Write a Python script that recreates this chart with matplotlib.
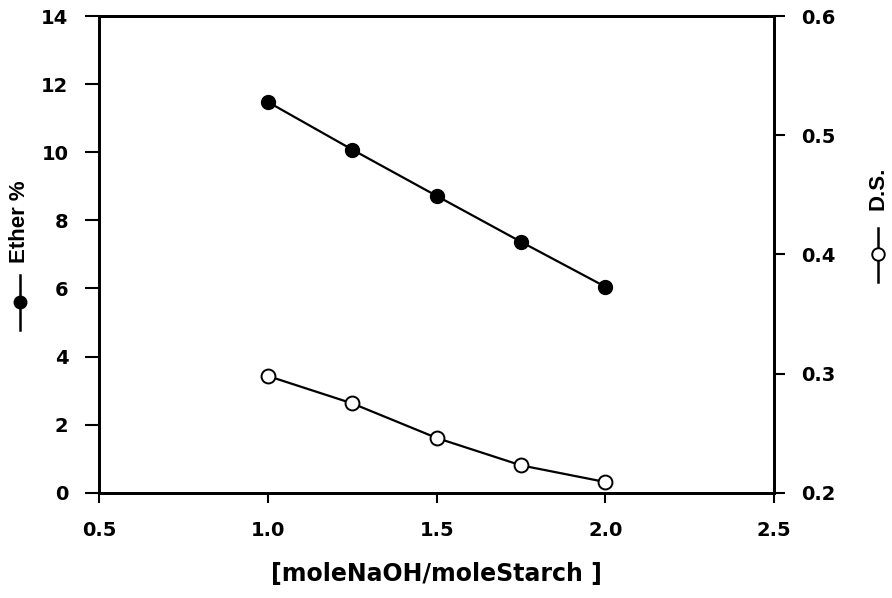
import matplotlib
matplotlib.use("Agg")
from matplotlib import pyplot as plt
from matplotlib.lines import Line2D

plt.rcParams['font.family'] = ['DejaVu Sans']
plt.rcParams['font.weight'] = 'bold'

# data
ratio = [1.0, 1.25, 1.5, 1.75, 2.0]
ether = [11.48, 10.08, 8.72, 7.37, 6.05]
ds = [0.298, 0.275, 0.246, 0.223, 0.209]

x_ticks = [0.5, 1.0, 1.5, 2.0, 2.5]
left_ticks = [0, 2, 4, 6, 8, 10, 12, 14]
right_ticks = [0.2, 0.3, 0.4, 0.5, 0.6]

fig = plt.figure(figsize=(8.92, 5.98), dpi=100)
ax = fig.add_axes([0.111, 0.176, 0.757, 0.797])
ax2 = ax.twinx()

ax.plot(ratio, ether, color='black', lw=1.6, marker='o', ms=10,
        mfc='black', mec='black', zorder=3)
ax2.plot(ratio, ds, color='black', lw=1.6, marker='o', ms=10,
         mfc='white', mec='black', mew=1.4, zorder=3)

ax.set_xlim(0.5, 2.5)
ax.set_ylim(0, 14)
ax2.set_ylim(0.2, 0.6)
ax.set_xticks(x_ticks)
ax.set_xticklabels([f"{v:.1f}" for v in x_ticks])
ax.set_yticks(left_ticks)
ax2.set_yticks(right_ticks)
ax2.set_yticklabels([f"{v:.1f}" for v in right_ticks])

for a in (ax, ax2):
    for s in a.spines.values():
        s.set_linewidth(2)
ax.tick_params(axis='y', direction='out', length=10, width=1.5, labelsize=14, pad=12)
ax.tick_params(axis='x', direction='out', length=7, width=1.5, labelsize=14, pad=13)
ax2.tick_params(axis='y', direction='out', length=8, width=1.5, labelsize=14, pad=11)

ax.set_xlabel("[moleNaOH/moleStarch ]", fontsize=17, fontweight='bold', labelpad=16)

# y labels with the series symbol drawn in front
fig.text(0.022, 0.63, "Ether %", rotation=90, fontsize=16, ha='center', va='center',
         family='Liberation Sans', fontweight='bold')
fig.lines.append(Line2D([0.022, 0.022], [0.448, 0.54], transform=fig.transFigure,
                        color='black', lw=1.8))
fig.lines.append(Line2D([0.022], [0.495], transform=fig.transFigure, color='black',
                        marker='o', ms=9, mfc='black'))

fig.text(0.984, 0.685, "D.S.", rotation=90, fontsize=16, ha='center', va='center',
         family='Liberation Sans', fontweight='bold')
fig.lines.append(Line2D([0.984, 0.984], [0.528, 0.618], transform=fig.transFigure,
                        color='black', lw=1.8))
fig.lines.append(Line2D([0.984], [0.575], transform=fig.transFigure, color='black',
                        marker='o', ms=9, mfc='white', mew=1.4))

fig.savefig("out.png", dpi=100)
